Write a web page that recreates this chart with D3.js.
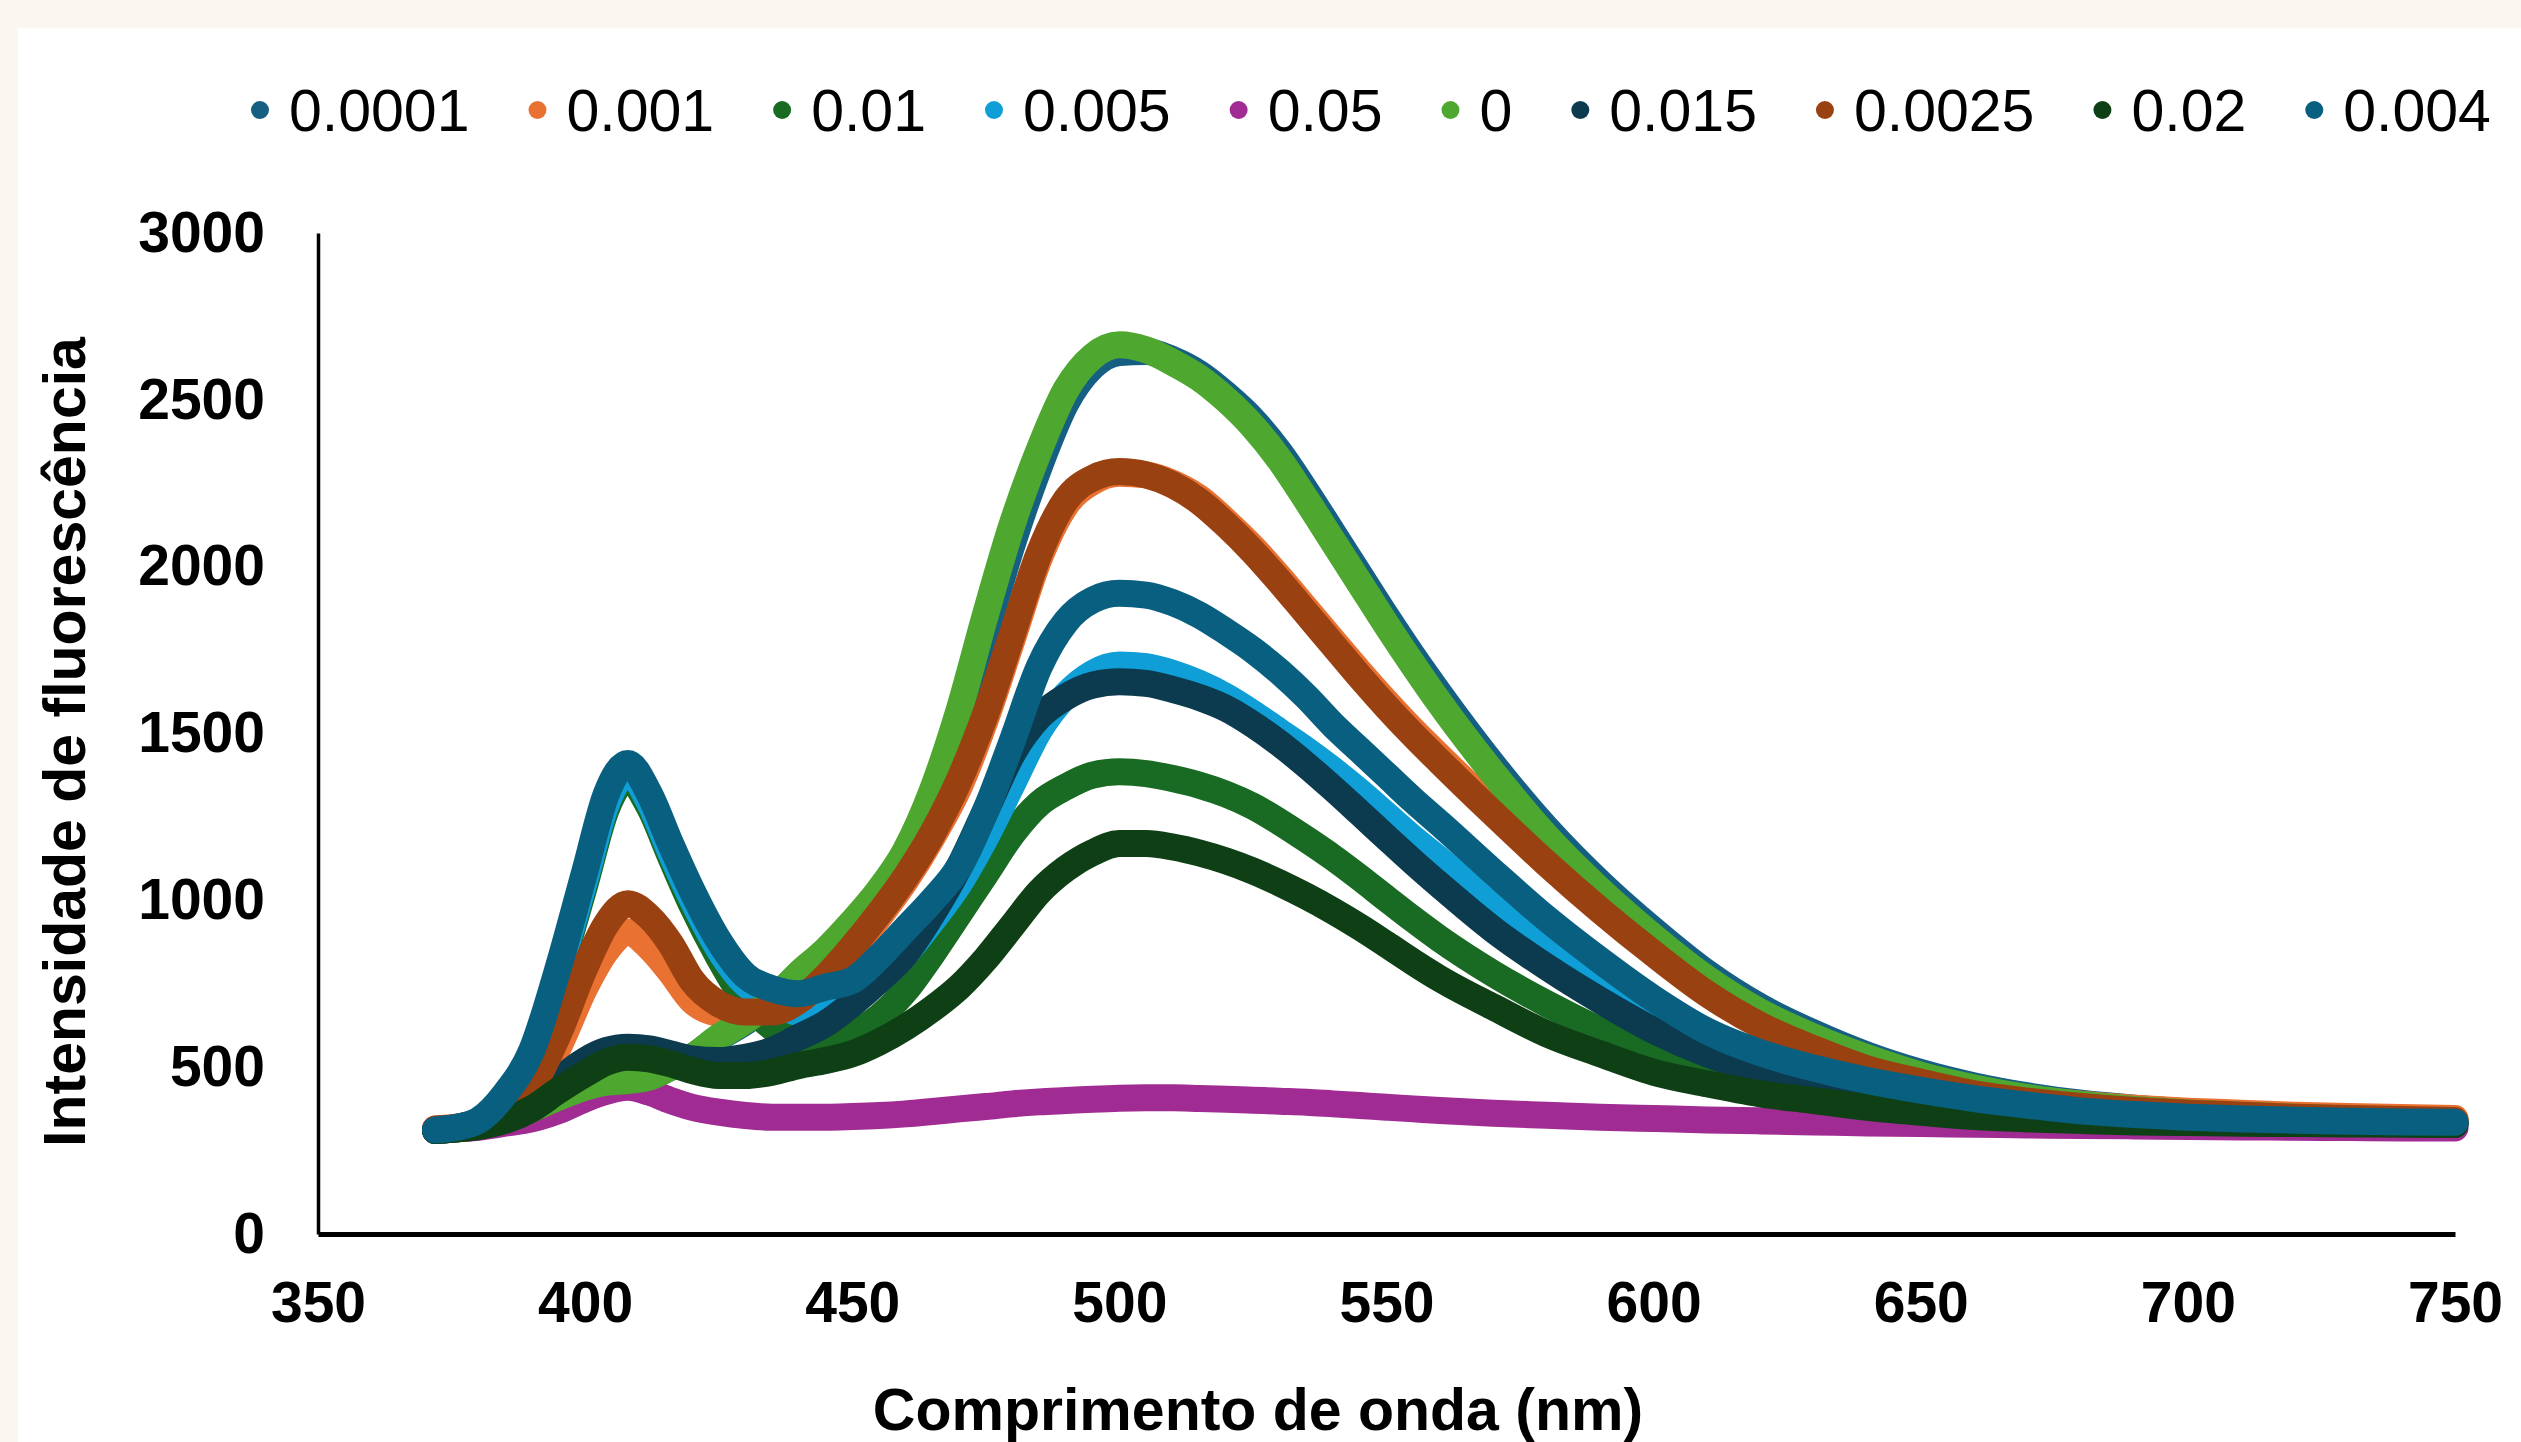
<!DOCTYPE html>
<html>
<head>
<meta charset="utf-8">
<script src="https://cdn.jsdelivr.net/npm/d3@7"></script>
<style>
  body { margin: 0; background: #fcf6f1; }
  svg { display: block; }
  text { font-family: "Liberation Sans", Arial, sans-serif; fill: #000; }
</style>
</head>
<body>
<svg id="chart" width="2521" height="1442"></svg>
<script>
// wavelengths (nm) where values were read
var wavelengths = [372, 376, 380, 385, 390, 395, 400, 404, 408, 412, 416, 420,
  425, 430, 435, 440, 445, 450, 455, 460, 465, 470, 475, 480, 485, 490, 495, 500,
  505, 510, 515, 520, 525, 530, 535, 540, 545, 550, 555, 560,
  570, 580, 590, 600, 610, 620, 630, 640, 650, 660, 670, 680, 690, 700, 710, 720, 730, 740, 750];

var seriesNames = ["0.0001", "0.001", "0.01", "0.005", "0.05", "0", "0.015", "0.0025", "0.02", "0.004"];

// fluorescence intensity per concentration
var c0_0001 = [310, 315, 325, 345, 375, 410, 440, 455, 460, 470, 500, 530,
  588, 636, 695, 770, 840, 920, 1010, 1120, 1285, 1520, 1800, 2070, 2300, 2490, 2600, 2642,
  2645, 2620, 2578, 2515, 2440, 2343, 2225, 2100, 1975, 1850, 1730, 1617,
  1405, 1215, 1052, 910, 782, 680, 602, 536, 484, 444, 414, 392, 377, 366, 358, 352, 347, 343, 340];
var c0_001 = [315, 320, 332, 360, 420, 560, 740, 850, 905, 860, 785, 700,
  660, 650, 660, 700, 765, 850, 950, 1060, 1190, 1340, 1545, 1785, 2025, 2185, 2255, 2280,
  2275, 2250, 2205, 2135, 2057, 1968, 1873, 1778, 1684, 1594, 1509, 1430,
  1275, 1125, 985, 855, 735, 637, 566, 506, 463, 428, 405, 389, 377, 368, 362, 356, 352, 349, 346];
var c0_01 = [310, 318, 335, 400, 535, 775, 1050, 1275, 1365, 1280, 1130, 985,
  830, 700, 620, 580, 575, 600, 650, 730, 840, 960, 1080, 1200, 1290, 1340, 1375, 1385,
  1380, 1365, 1345, 1318, 1282, 1235, 1183, 1128, 1068, 1005, 943, 884,
  780, 690, 610, 540, 485, 448, 420, 400, 385, 372, 362, 354, 348, 344, 340, 337, 335, 333, 332];
var c0_005 = [312, 320, 338, 410, 540, 785, 1065, 1290, 1385, 1295, 1145, 1005,
  855, 750, 705, 665, 670, 700, 760, 840, 940, 1050, 1190, 1350, 1510, 1615, 1680, 1705,
  1700, 1680, 1650, 1610, 1560, 1505, 1450, 1390, 1325, 1255, 1185, 1120,
  990, 870, 760, 660, 575, 520, 480, 445, 420, 398, 380, 366, 356, 350, 345, 341, 338, 336, 334];
var c0_05 = [310, 315, 320, 332, 345, 370, 405, 428, 440, 425, 400, 380,
  365, 355, 350, 350, 350, 352, 355, 360, 367, 375, 382, 390, 396, 400, 404, 407,
  408, 408, 406, 404, 401, 398, 395, 390, 385, 380, 375, 370,
  362, 356, 350, 346, 342, 339, 336, 333, 331, 329, 327, 325, 324, 322, 321, 320, 319, 318, 318];
var c0 = [310, 315, 325, 345, 375, 410, 440, 455, 460, 470, 500, 530,
  590, 640, 700, 780, 850, 935, 1030, 1150, 1330, 1570, 1860, 2130, 2350, 2530, 2630, 2665,
  2650, 2612, 2565, 2500, 2420, 2320, 2200, 2075, 1950, 1825, 1705, 1590,
  1380, 1190, 1030, 890, 765, 665, 590, 528, 476, 438, 409, 388, 373, 363, 356, 350, 345, 341, 338];
var c0_015 = [310, 315, 325, 345, 385, 460, 520, 550, 560, 555, 540, 525,
  520, 530, 550, 590, 630, 690, 760, 840, 960, 1100, 1270, 1440, 1550, 1610, 1645, 1655,
  1650, 1632, 1608, 1575, 1527, 1470, 1405, 1335, 1262, 1188, 1115, 1045,
  912, 800, 700, 610, 540, 490, 455, 425, 405, 388, 374, 362, 354, 348, 343, 339, 336, 334, 332];
var c0_0025 = [315, 320, 335, 370, 440, 600, 800, 930, 990, 950, 870, 760,
  690, 665, 665, 700, 770, 860, 960, 1070, 1200, 1360, 1560, 1800, 2040, 2200, 2265, 2285,
  2275, 2245, 2195, 2125, 2045, 1955, 1860, 1765, 1670, 1580, 1495, 1415,
  1260, 1110, 970, 840, 720, 625, 555, 495, 455, 420, 398, 382, 370, 362, 356, 350, 346, 343, 340];
var c0_02 = [310, 315, 322, 340, 375, 430, 480, 515, 530, 525, 510, 490,
  475, 475, 485, 505, 520, 540, 575, 620, 675, 740, 825, 925, 1025, 1095, 1143, 1170,
  1170, 1160, 1142, 1118, 1088, 1052, 1012, 968, 920, 868, 815, 765,
  680, 600, 540, 485, 450, 420, 400, 380, 365, 352, 345, 340, 336, 334, 332, 331, 330, 329, 328];
var c0_004 = [312, 320, 340, 420, 550, 800, 1090, 1320, 1410, 1320, 1170, 1030,
  880, 775, 735, 720, 740, 760, 830, 915, 1000, 1100, 1270, 1480, 1700, 1835, 1900, 1920,
  1915, 1892, 1855, 1805, 1750, 1685, 1610, 1525, 1450, 1375, 1300, 1230,
  1085, 945, 820, 705, 608, 543, 497, 460, 431, 406, 386, 369, 358, 350, 345, 341, 338, 336, 335];

var yTicks = [0, 500, 1000, 1500, 2000, 2500, 3000];
var xTicks = [350, 400, 450, 500, 550, 600, 650, 700, 750];

var palette = ["#156082", "#e97132", "#196b24", "#0f9ed5", "#a02b93",
               "#4ea72e", "#0c3a4e", "#9a4111", "#0f4015", "#095f80"];

var allSeries = [c0_0001, c0_001, c0_01, c0_005, c0_05, c0, c0_015, c0_0025, c0_02, c0_004];

var svg = d3.select("#chart");
var W = +svg.attr("width"), H = +svg.attr("height");

// white chart area over the beige page
svg.append("rect")
  .attr("x", 18).attr("y", 28)
  .attr("width", W - 18).attr("height", H - 28)
  .attr("fill", "#fff");

var x = d3.scaleLinear().domain([350, 750]).range([318, 2455]);
var y = d3.scaleLinear().domain([0, 3000]).range([1234, 233]);

var line = d3.line()
  .x(function(d) { return x(d[0]); })
  .y(function(d) { return y(d[1]); })
  .curve(d3.curveMonotoneX);

/*
  series, drawn in legend order so the last ones sit on top
*/
var plot = svg.append("g").attr("class", "series");
allSeries.forEach(function(vals, i) {
  var pts = wavelengths.map(function(w, k) { return [w, vals[k]]; });
  plot.append("path")
    .datum(pts)
    .attr("d", line)
    .attr("fill", "none")
    .attr("stroke", palette[i])
    .attr("stroke-width", 27)
    .attr("stroke-linecap", "round")
    .attr("stroke-linejoin", "round");
});

// axes
var yAxis = svg.append("g")
  .attr("transform", "translate(" + x(350) + ",0)")
  .call(d3.axisLeft(y).tickValues(yTicks).tickFormat(d3.format("d"))
    .tickSize(0).tickSizeOuter(0).tickPadding(53));
yAxis.select(".domain").attr("stroke", "#000").attr("stroke-width", 3.5);
yAxis.selectAll("text")
  .attr("font-size", 57).attr("font-weight", "bold")
  .style("font-family", "'Liberation Sans', Arial, sans-serif").attr("fill", "#000");

var xAxis = svg.append("g")
  .attr("transform", "translate(0," + y(0) + ")")
  .call(d3.axisBottom(x).tickValues(xTicks).tickFormat(d3.format("d"))
    .tickSize(0).tickSizeOuter(0).tickPadding(48));
xAxis.select(".domain").attr("stroke", "#000").attr("stroke-width", 5);
xAxis.selectAll("text")
  .attr("font-size", 57).attr("font-weight", "bold")
  .style("font-family", "'Liberation Sans', Arial, sans-serif").attr("fill", "#000");

// axis titles
svg.append("text")
  .attr("x", 1258).attr("y", 1409).attr("dy", "0.35em")
  .attr("text-anchor", "middle")
  .attr("font-size", 59).attr("font-weight", "bold")
  .text("Comprimento de onda (nm)");

svg.append("text")
  .attr("transform", "translate(64,742) rotate(-90)")
  .attr("dy", "0.35em")
  .attr("text-anchor", "middle")
  .attr("font-size", 59).attr("font-weight", "bold")
  .text("Intensidade de fluorescência");

/*
  legend, one row
*/
var legend = svg.append("g").attr("class", "legend");
var cursor = 251, legY = 110, r = 9;
seriesNames.forEach(function(name, i) {
  legend.append("circle")
    .attr("cx", cursor + r).attr("cy", legY).attr("r", r)
    .attr("fill", palette[i]);
  var t = legend.append("text")
    .attr("x", cursor + 38).attr("y", legY).attr("dy", "0.35em")
    .attr("font-size", 59)
    .text(name);
  cursor = cursor + 38 + t.node().getComputedTextLength() + 59;
});
</script>
</body>
</html>
